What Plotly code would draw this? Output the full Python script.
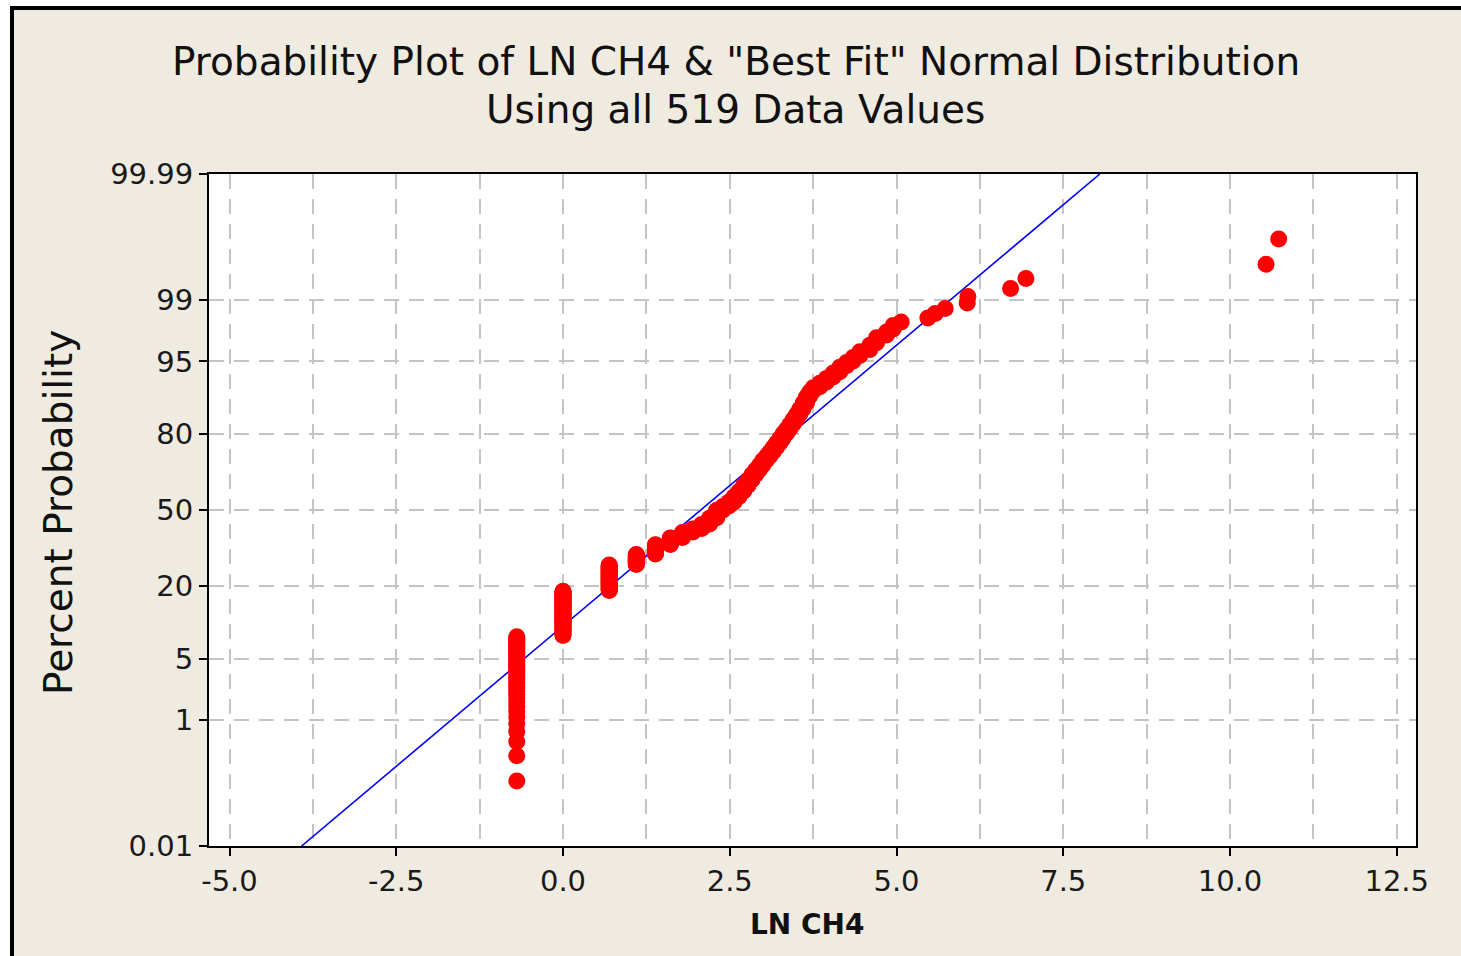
import numpy as np
import plotly.graph_objects as go
from statistics import NormalDist

# ---------------- data ----------------
# LN CH4 values (distinct values) and how many of the 519 observations sit at each
ln_ch4_values = [
    -0.693, 0.0, 0.693, 1.099, 1.386, 1.609, 1.792, 1.946, 2.079, 2.197,
    2.303, 2.398, 2.485, 2.565, 2.639, 2.708, 2.773, 2.833, 2.890, 2.944,
    2.996, 3.05, 3.10, 3.15, 3.20, 3.25, 3.30, 3.35, 3.40, 3.45,
    3.50, 3.55, 3.60, 3.65, 3.70, 3.75, 3.85, 3.95, 4.05, 4.15,
    4.25, 4.35, 4.45, 4.60, 4.70, 4.85, 4.95, 5.07, 5.47, 5.58,
    5.73, 6.06, 6.07, 6.71, 6.94, 10.54, 10.73,
]
counts = [
    42, 54, 45, 21, 20, 15, 12, 8, 10, 14,
    18, 9, 10, 12, 12, 13, 12, 12, 10, 9,
    10, 8, 8, 8, 8, 8, 8, 7, 7, 7,
    7, 7, 7, 7, 5, 4, 4, 4, 4, 4,
    3, 3, 3, 3, 3, 2, 2, 1, 1, 1,
    1, 1, 1, 1, 1, 1, 1,
]

# "Best fit" normal distribution (location, scale)
fit_mean = 2.065
fit_sd = 1.609

# probability axis tick labels (percent)
y_tick_percent = [0.01, 1, 5, 20, 50, 80, 95, 99, 99.99]
y_tick_labels = ["0.01", "1", "5", "20", "50", "80", "95", "99", "99.99"]
x_tick_values = [-5.0, -2.5, 0.0, 2.5, 5.0, 7.5, 10.0, 12.5]
x_tick_labels = ["-5.0", "-2.5", "0.0", "2.5", "5.0", "7.5", "10.0", "12.5"]

title_lines = ['Probability Plot of LN CH4 &amp; "Best Fit" Normal Distribution',
               "Using all 519 Data Values"]

# ---------------- probability-plot transform ----------------
nd = NormalDist()
x_sorted = np.repeat(np.array(ln_ch4_values), np.array(counts))
n = int(x_sorted.size)
ranks = np.arange(1, n + 1)
plot_pos = (ranks - 0.3) / (n + 0.4)          # median ranks
z_pts = np.array([nd.inv_cdf(float(p)) for p in plot_pos])

z_ticks = [nd.inv_cdf(p / 100.0) for p in y_tick_percent]
z_lo, z_hi = z_ticks[0], z_ticks[-1]
line_x = [fit_mean + fit_sd * z_lo, fit_mean + fit_sd * z_hi]
line_z = [z_lo, z_hi]

# ---------------- layout geometry ----------------
W, H = 1461, 956
L, R, T, B = 209, 45, 174, 110
PW, PH = W - L - R, H - T - B


def px(xp):
    return (xp - L) / PW


def py(yp):
    return (H - B - yp) / PH


FONT = "DejaVu Sans"
BG = "#EFEBE1"
GRID = "#C4C4C4"

fig = go.Figure()
fig.add_trace(go.Scatter(
    x=line_x, y=line_z, mode="lines",
    line=dict(color="#0000FF", width=1.6),
    hoverinfo="skip", showlegend=False,
))
fig.add_trace(go.Scatter(
    x=x_sorted, y=z_pts, mode="markers",
    marker=dict(color="#FF0000", size=17, line=dict(width=0)),
    showlegend=False,
))

fig.update_layout(
    width=W, height=H,
    margin=dict(l=L, r=R, t=T, b=B, pad=0),
    paper_bgcolor=BG, plot_bgcolor="white",
    font=dict(family=FONT, color="#1a1a1a"),
    xaxis=dict(
        range=[(209 - 563) / 66.7, (1416 - 563) / 66.7],
        tickmode="array", tickvals=x_tick_values, ticktext=x_tick_labels,
        ticks="outside", ticklen=8, tickwidth=2, tickcolor="black",
        tickfont=dict(family=FONT, size=29, color="#1a1a1a"),
        showline=True, linecolor="black", linewidth=2, mirror=True,
        showgrid=True, gridcolor=GRID, gridwidth=2, griddash="15px,10px",
        minor=dict(tickmode="linear", tick0=-3.75, dtick=2.5, showgrid=True,
                   gridcolor=GRID, gridwidth=2, griddash="15px,10px", ticks=""),
        zeroline=False, automargin=False,
    ),
    yaxis=dict(
        range=[z_lo, z_hi],
        tickmode="array", tickvals=z_ticks, ticktext=y_tick_labels,
        ticks="outside", ticklen=8, tickwidth=2, tickcolor="black",
        tickfont=dict(family=FONT, size=29, color="#1a1a1a"),
        showline=True, linecolor="black", linewidth=2, mirror=True,
        showgrid=True, gridcolor=GRID, gridwidth=2, griddash="15px,10px",
        zeroline=False, automargin=False,
    ),
    annotations=[
        dict(text=title_lines[0],
             x=px(736), y=py(62), xref="paper", yref="paper",
             xanchor="center", yanchor="middle", showarrow=False,
             font=dict(family=FONT, size=39, color="#111111")),
        dict(text=title_lines[1],
             x=px(735), y=py(110), xref="paper", yref="paper",
             xanchor="center", yanchor="middle", showarrow=False,
             font=dict(family=FONT, size=39, color="#111111")),
        dict(text="Percent Probability", textangle=-90,
             x=px(58), y=py(512), xref="paper", yref="paper",
             xanchor="center", yanchor="middle", showarrow=False,
             font=dict(family=FONT, size=39, color="#111111")),
        dict(text="<b>LN CH4</b>",
             x=px(807), y=py(924), xref="paper", yref="paper",
             xanchor="center", yanchor="middle", showarrow=False,
             font=dict(family=FONT, size=28, color="#111111")),
    ],
    shapes=[
        dict(type="rect", xref="paper", yref="paper", x0=px(0), x1=px(10),
             y0=py(H), y1=py(0), fillcolor="white", line=dict(width=0)),
        dict(type="rect", xref="paper", yref="paper", x0=px(0), x1=px(W),
             y0=py(6), y1=py(0), fillcolor="white", line=dict(width=0)),
        dict(type="rect", xref="paper", yref="paper", x0=px(10), x1=px(14),
             y0=py(H), y1=py(6), fillcolor="black", line=dict(width=0)),
        dict(type="rect", xref="paper", yref="paper", x0=px(10), x1=px(W),
             y0=py(10), y1=py(6), fillcolor="black", line=dict(width=0)),
    ],
)

fig.write_html("out.html", config={"displayModeBar": False},
               post_script="document.body.style.margin='0';document.body.style.overflow='hidden';")
